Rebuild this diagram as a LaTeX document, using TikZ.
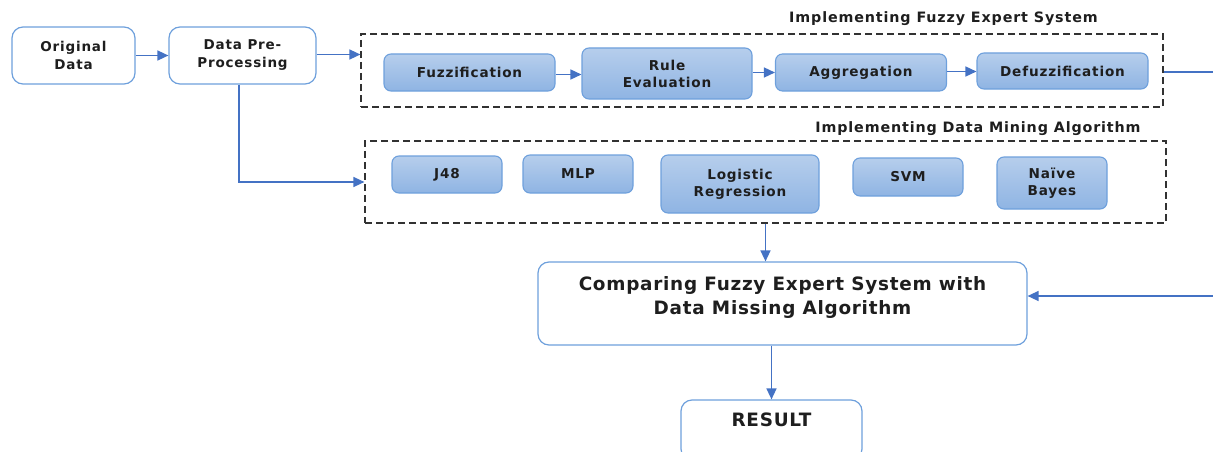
\documentclass[tikz,border=0pt]{standalone}
\usepackage{fontspec}
\setmainfont{DejaVu Sans}
\newfontfamily\diafont[LetterSpace=6]{DejaVu Sans}
\newfontfamily\bigfont[LetterSpace=4]{DejaVu Sans}
\usetikzlibrary{arrows.meta}
\definecolor{edge}{RGB}{110,160,220}
\definecolor{arr}{RGB}{68,114,196}
\definecolor{ftop}{RGB}{182,206,236}
\definecolor{fbot}{RGB}{143,180,227}
\definecolor{txt}{RGB}{30,30,30}
\definecolor{dash}{RGB}{50,50,50}
\begin{document}
\begin{tikzpicture}[x=1pt,y=-1pt,
  outerbox/.style={draw=edge, line width=1.2pt, rounded corners=11pt, fill=white, align=center, text=txt, inner sep=0pt, font=\diafont\bfseries\fontsize{13.5}{18}\selectfont},
  innerbox/.style={draw=edge, line width=1.1pt, rounded corners=7pt, top color=ftop, bottom color=fbot, align=center, text=txt, inner sep=0pt, font=\diafont\bfseries\fontsize{13.6}{17}\selectfont},
  grp/.style={draw=dash, dash pattern=on 7pt off 4pt, line width=1.2pt},
  grplabel/.style={text=txt, inner sep=0pt, font=\diafont\bfseries\fontsize{14.3}{15}\selectfont},
  bigtext/.style={text=txt, inner sep=0pt, align=center, font=\bigfont\bfseries\fontsize{18.4}{24}\selectfont},
  conn/.style={draw=arr, line width=1.5pt, -{Triangle[length=11pt,width=10pt]}}
]
\useasboundingbox (0,0) rectangle (1213,452);

% top row
\node[outerbox, minimum width=123pt, minimum height=57pt] (od) at (73.5,55.5) {Original\\Data};
\node[outerbox, minimum width=147pt, minimum height=57pt] (dpp) at (242.5,55.5) {Data Pre-\\Processing};

% Fuzzy expert system group
\node[grp, minimum width=802pt, minimum height=73pt, inner sep=0pt] (fes) at (762,70.5) {};
\node[grplabel] (fesl) at (943.5,19) {Implementing Fuzzy Expert System};
\node[innerbox, minimum width=171pt, minimum height=37pt] (fz) at (469.5,72.5) {Fuzzification};
\node[innerbox, minimum width=170pt, minimum height=51pt] (re) at (667,73.5) {Rule\\Evaluation};
\node[innerbox, minimum width=171pt, minimum height=37pt] (ag) at (861,72.5) {Aggregation};
\node[innerbox, minimum width=171pt, minimum height=36pt] (df) at (1062.5,71) {Defuzzification};

% Data mining group
\node[grp, minimum width=801pt, minimum height=82pt, inner sep=0pt] (dma) at (765.5,182) {};
\node[grplabel] (dmal) at (978,128.5) {Implementing Data Mining Algorithm};
\node[innerbox, minimum width=110pt, minimum height=37pt] (j48) at (447,174.5) {J48};
\node[innerbox, minimum width=110pt, minimum height=38pt] (mlp) at (578,174) {MLP};
\node[innerbox, minimum width=158pt, minimum height=58pt] (lr) at (740,184) {Logistic\\Regression};
\node[innerbox, minimum width=110pt, minimum height=38pt] (svm) at (908,177) {SVM};
\node[innerbox, minimum width=110pt, minimum height=52pt] (nb) at (1052,183) {Naïve\\Bayes};

% Comparing and result
\node[outerbox, minimum width=489pt, minimum height=83pt] (cmp) at (782.5,303.5) {};
\node[bigtext] (cmpt) at (782.5,297) {Comparing Fuzzy Expert System with\\Data Missing Algorithm};
\node[outerbox, minimum width=181pt, minimum height=60pt, text height=12pt, text depth=20pt, font=\bigfont\bfseries\fontsize{18.4}{20}\selectfont] (res) at (771.5,430) {RESULT};

% connectors
\draw[conn] (od.east) -- (dpp.west);
\draw[conn] ([yshift=1pt]dpp.east) -- ([yshift=1pt]dpp.east -| fes.west);
\draw[conn] ([yshift=-2pt]fz.east) -- ([yshift=-2pt]fz.east -| re.west);
\draw[conn] ([yshift=1pt]re.east) -- ([yshift=1pt]re.east -| ag.west);
\draw[conn] ([yshift=1pt]ag.east) -- ([yshift=1pt]ag.east -| df.west);
\draw[conn] ([xshift=-3.5pt]dpp.south) |- (dma.west);
\draw[conn] ([yshift=-1.5pt]fes.east) -- ++(80,0) |- ([yshift=7.5pt]cmp.east);
\draw[conn] (dma.south) -- (dma.south |- cmp.north);
\draw[conn] (cmp.south -| res.north) -- (res.north);
\end{tikzpicture}
\end{document}
